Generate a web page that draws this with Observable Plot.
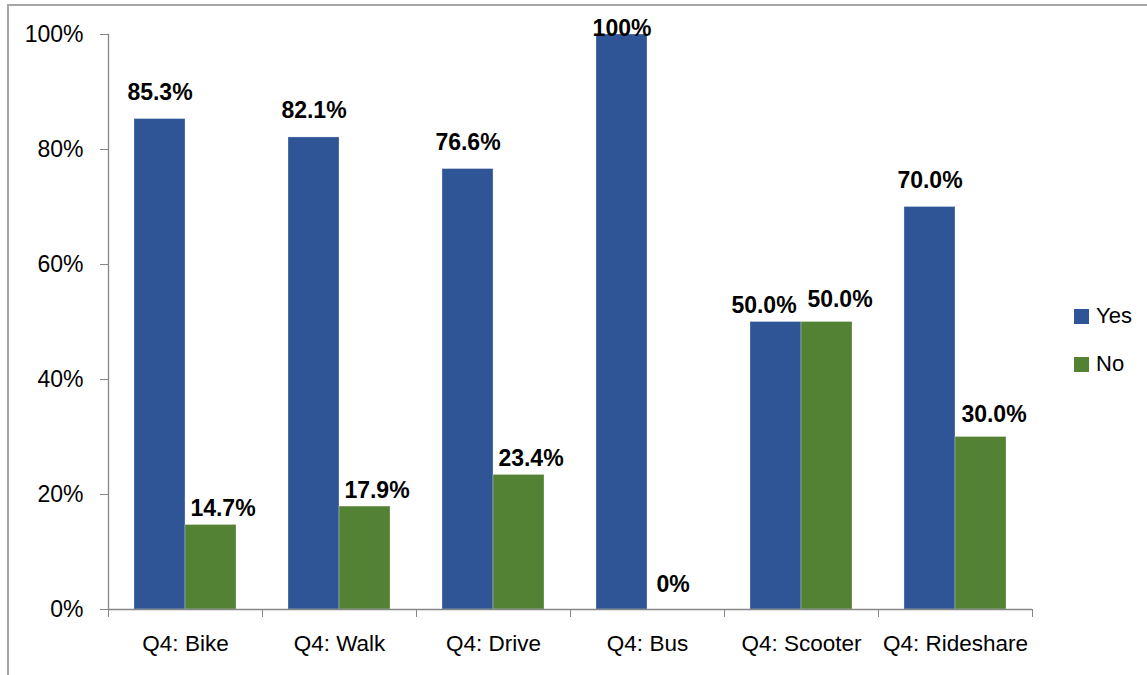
<!DOCTYPE html>
<html>
<head>
<meta charset="utf-8">
<script src="https://cdn.jsdelivr.net/npm/d3@7"></script>
<script src="https://cdn.jsdelivr.net/npm/@observablehq/plot@0.6"></script>
<style>
  html, body { margin: 0; padding: 0; background: #fff; }
  #wrap { position: relative; width: 1147px; height: 675px; overflow: hidden; font-family: "Liberation Sans", Arial, sans-serif; }
  #border { position: absolute; left: 7px; top: 4px; width: 1300px; height: 800px; border-top: 2px solid #a6a6a6; border-left: 2px solid #a6a6a6; box-sizing: border-box; }
  #chart { position: absolute; left: 0; top: 0; }
  #legend { position: absolute; left: 1074px; top: 302px; font-size: 22px; color: #000; }
  .item { display: flex; align-items: center; height: 28px; margin-bottom: 20px; }
  .sw { width: 15px; height: 15px; margin-right: 7px; }
</style>
</head>
<body>
<div id="wrap">
  <div id="border"></div>
  <div id="chart"></div>
  <div id="legend"></div>
</div>
<script>
const categories = ["Q4: Bike", "Q4: Walk", "Q4: Drive", "Q4: Bus", "Q4: Scooter", "Q4: Rideshare"];
const series = ["Yes", "No"];
const seriesColors = ["#2F5597", "#548235"];
const yesValues = [0.853, 0.821, 0.766, 1.0, 0.5, 0.7];
const noValues = [0.147, 0.179, 0.234, 0.0, 0.5, 0.3];
const yesLabels = ["85.3%", "82.1%", "76.6%", "100%", "50.0%", "70.0%"];
const noLabels = ["14.7%", "17.9%", "23.4%", "0%", "50.0%", "30.0%"];
const yTicks = [0, 0.2, 0.4, 0.6, 0.8, 1.0];
const yTickLabels = ["0%", "20%", "40%", "60%", "80%", "100%"];

const data = [];
categories.forEach((c, i) => {
  data.push({category: c, series: "Yes", value: yesValues[i], label: yesLabels[i]});
  data.push({category: c, series: "No", value: noValues[i], label: noLabels[i]});
});

const axisGray = "#868686";

// data-label placement groups (label offsets, as placed in the original chart)
const labelGroups = [
  {series: "Yes", cats: ["Q4: Bike", "Q4: Walk", "Q4: Drive", "Q4: Rideshare"], dx: 0, dy: -19},
  {series: "Yes", cats: ["Q4: Bus"], dx: 0, dy: 1},
  {series: "Yes", cats: ["Q4: Scooter"], dx: -12, dy: -9},
  {series: "No", cats: ["Q4: Bike", "Q4: Walk", "Q4: Drive"], dx: 12, dy: -9},
  {series: "No", cats: ["Q4: Bus"], dx: 0, dy: -18},
  {series: "No", cats: ["Q4: Scooter", "Q4: Rideshare"], dx: 13, dy: -15}
];
const labelMarks = labelGroups.map(g =>
  Plot.text(data.filter(d => d.series === g.series && g.cats.includes(d.category)), {
    fx: "category", x: "series", y: "value", text: "label",
    lineAnchor: "bottom", dx: g.dx, dy: g.dy,
    fontWeight: "bold", fontSize: 23, fill: "#000"
  })
);

const chart = Plot.plot({
  width: 1147,
  height: 675,
  marginLeft: 108,
  marginRight: 115,
  marginTop: 34,
  marginBottom: 66,
  style: {fontFamily: "'Liberation Sans', Arial, sans-serif", fontSize: "22px", color: "#000", background: "transparent"},
  fx: {domain: categories, padding: 0, label: null},
  x: {domain: series, paddingInner: 0, paddingOuter: 0.5, axis: null},
  y: {domain: [0, 1], label: null},
  color: {domain: series, range: seriesColors},
  marks: [
    Plot.barY(data, {fx: "category", x: "series", y: "value", fill: "series", stroke: "#ffffff", strokeOpacity: 0.35, strokeWidth: 0.8}),
    Plot.ruleY([0], {stroke: axisGray, strokeWidth: 1.3}),
    Plot.frame({anchor: "left", facetAnchor: "left", stroke: axisGray, strokeWidth: 1.3}),
    Plot.axisY({ticks: yTicks, tickFormat: d => yTickLabels[yTicks.indexOf(d)], tickSize: 8, tickPadding: 17, stroke: axisGray, fill: "#000", label: null, fontSize: 23}),
    Plot.axisFx({anchor: "bottom", tickSize: 8, tickFormat: () => "", dx: -77, stroke: axisGray, label: null}),
    Plot.axisFx({anchor: "bottom", tickSize: 8, tickFormat: () => "", dx: 77, stroke: axisGray, label: null}),
    Plot.axisFx({anchor: "bottom", tickSize: 0, tickPadding: 26, fill: "#000", label: null, fontSize: 22.5}),
    ...labelMarks
  ]
});
document.getElementById("chart").appendChild(chart);

const legend = document.getElementById("legend");
series.forEach((s, i) => {
  const item = document.createElement("div");
  item.className = "item";
  const sw = document.createElement("div");
  sw.className = "sw";
  sw.style.background = seriesColors[i];
  const t = document.createElement("span");
  t.textContent = s;
  item.appendChild(sw);
  item.appendChild(t);
  legend.appendChild(item);
});
</script>
</body>
</html>
